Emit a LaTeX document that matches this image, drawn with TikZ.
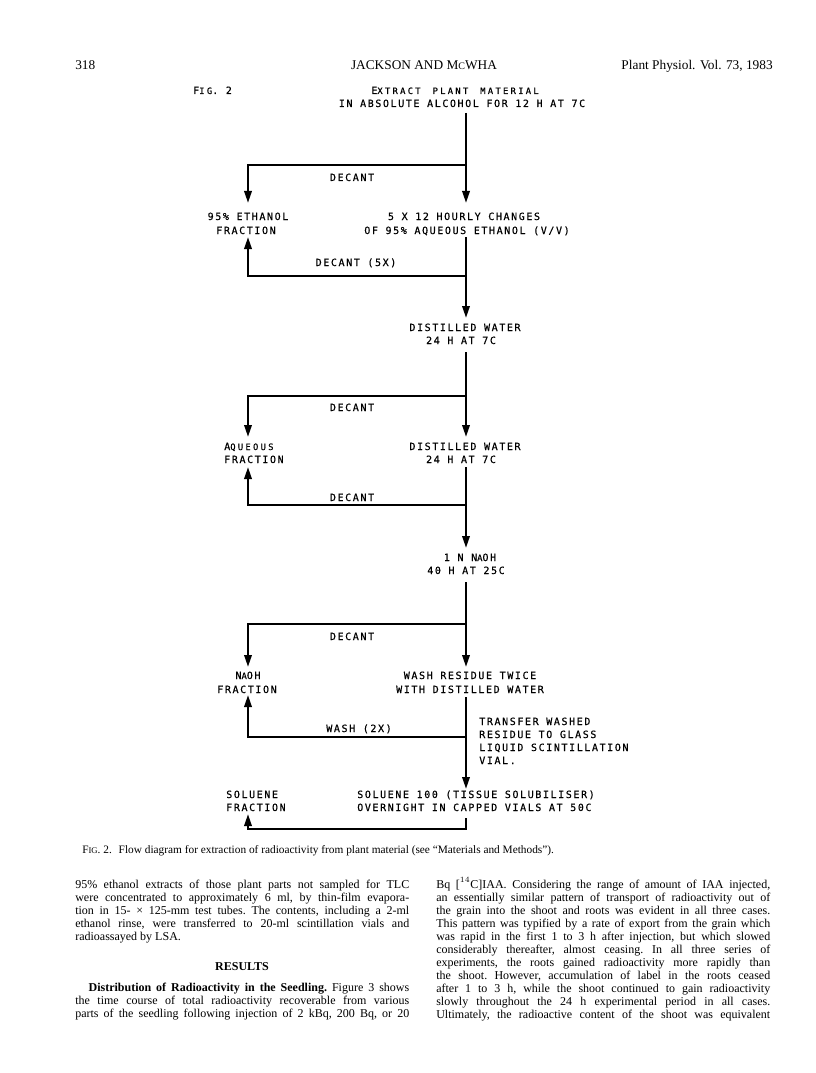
\documentclass[tikz,border=0pt]{standalone}
\usepackage{fontspec}
\usetikzlibrary{arrows.meta}
\setmainfont{Liberation Serif}
\newfontfamily\flowA[LetterSpace=16,FakeBold=0.4]{DejaVu Sans Mono}
\newfontfamily\flowB[LetterSpace=26,FakeBold=0.4]{DejaVu Sans Mono}
\newcommand\flowfont{\flowA\fontsize{7.5}{9.75}\selectfont}
\newcommand\sm[1]{{\flowB\fontsize{6.6}{9.75}\selectfont #1}}
\newcommand\gp{\hspace{9pt}}
\newcommand\bodyfont{\fontsize{9}{9.75}\selectfont\frenchspacing}
\newcommand\jline[1]{\makebox[250.5pt][s]{#1}}
\tikzset{
  ft/.style={inner sep=0pt, anchor=base, font=\flowfont},
  ftl/.style={inner sep=0pt, anchor=base west, font=\flowfont},
  arr/.style={line width=1.7pt, line join=miter, -{Triangle[length=9pt,width=5.5pt]}},
  bt/.style={inner sep=0pt, anchor=base west, font=\bodyfont},
  hd/.style={inner sep=0pt, font=\fontsize{10}{12}\selectfont},
}
\begin{document}
\begin{tikzpicture}[x=0.75pt,y=-0.75pt]
\useasboundingbox (0,0) rectangle (816,1073);
\fill[white] (0,0) rectangle (816,1073);

% header
\node[hd, anchor=base west] (h1) at (75,70) {318};
\node[hd, anchor=base] (h2) at (424,70) {JACKSON AND M{\fontsize{7.5}{9}\selectfont C}WHA};
\node[hd, anchor=base east] (h3) at (773,70) {Plant Physiol. Vol. 73, 1983};

% flow texts
\node[ftl] (fig) at (193,94) {F\sm{IG}. 2};
\node[ft] (e1) at (455,94) {E\sm{XTRACT}\gp\sm{PLANT}\gp\sm{MATERIAL}};
\node[ft] (e2) at (462,107) {IN ABSOLUTE ALCOHOL FOR 12 H AT 7C};

\node[ft] (f1a) at (248,220) {95\% ETHANOL};
\node[ft] (f1b) at (246,234) {FRACTION};
\node[ft] (s1a) at (464,220) {5 X 12 HOURLY CHANGES};
\node[ft] (s1b) at (467,234) {OF 95\% AQUEOUS ETHANOL (V/V)};
\node[ft] (d1) at (352,181) {DECANT};
\node[ft] (d2) at (356,266) {DECANT (5X)};

\node[ft] (s2a) at (465,331) {DISTILLED WATER};
\node[ft] (s2b) at (461,344) {24 H AT 7C};
\node[ft] (d3) at (352,411) {DECANT};
\node[ftl] (f2a) at (224,450) {A\sm{QUEOUS}};
\node[ftl] (f2b) at (224,463) {FRACTION};
\node[ft] (s3a) at (465,450) {DISTILLED WATER};
\node[ft] (s3b) at (461,463) {24 H AT 7C};
\node[ft] (d4) at (352,501) {DECANT};

\node[ft] (s4a) at (470,561) {1 N N\sm{A}OH};
\node[ft] (s4b) at (466,574) {40 H AT 25C};
\node[ft] (d5) at (352,640) {DECANT};
\node[ft] (f3a) at (248,679) {N\sm{A}OH};
\node[ft] (f3b) at (247,693) {FRACTION};
\node[ft] (s5a) at (470,679) {WASH RESIDUE TWICE};
\node[ft] (s5b) at (470,693) {WITH DISTILLED WATER};
\node[ft] (w1) at (359,732) {WASH (2X)};
\node[ftl] (tr1) at (479,725) {TRANSFER WASHED};
\node[ftl] (tr2) at (479,738) {RESIDUE TO GLASS};
\node[ftl] (tr3) at (479,751) {LIQUID SCINTILLATION};
\node[ftl] (tr4) at (479,764) {VIAL.};
\node[ftl] (s6a) at (357,798) {SOLUENE 100 (TISSUE SOLUBILISER)};
\node[ftl] (s6b) at (357,811) {OVERNIGHT IN CAPPED VIALS AT 50C};
\node[ftl] (f4a) at (226,798) {SOLUENE};
\node[ftl] (f4b) at (226,811) {FRACTION};

% connector coordinates
\coordinate (m0) at (466,113);
\coordinate (m1) at (466,203);
\coordinate (b1) at (466,165);
\coordinate (l1) at (248,165);
\coordinate (l1t) at (248,203);
\coordinate (m2) at (466,237);
\coordinate (m2t) at (466,318);
\coordinate (b2) at (466,276);
\coordinate (l2) at (248,276);
\coordinate (l2t) at (248,237);
\coordinate (m3) at (466,352);
\coordinate (m3t) at (466,437);
\coordinate (b3) at (466,396);
\coordinate (l3) at (248,396);
\coordinate (l3t) at (248,437);
\coordinate (m4) at (466,467);
\coordinate (m4t) at (466,548);
\coordinate (b4) at (466,505);
\coordinate (l4) at (248,505);
\coordinate (l4t) at (248,467);
\coordinate (m5) at (466,582);
\coordinate (m5t) at (466,667);
\coordinate (b5) at (466,624);
\coordinate (l5) at (248,624);
\coordinate (l5t) at (248,667);
\coordinate (m6) at (466,697);
\coordinate (m6t) at (466,789);
\coordinate (b6) at (466,737);
\coordinate (l6) at (248,737);
\coordinate (l6t) at (248,695);
\coordinate (m7) at (466,818);
\coordinate (b7) at (466,829);
\coordinate (l7) at (248,829);
\coordinate (l7t) at (248,814);

\draw[arr] (m0) -- (m1);
\draw[arr] (b1) -- (l1) -- (l1t);
\draw[arr] (m2) -- (m2t);
\draw[arr] (b2) -- (l2) -- (l2t);
\draw[arr] (m3) -- (m3t);
\draw[arr] (b3) -- (l3) -- (l3t);
\draw[arr] (m4) -- (m4t);
\draw[arr] (b4) -- (l4) -- (l4t);
\draw[arr] (m5) -- (m5t);
\draw[arr] (b5) -- (l5) -- (l5t);
\draw[arr] (m6) -- (m6t);
\draw[arr] (b6) -- (l6) -- (l6t);
\draw[arr] (m7) -- (b7) -- (l7) -- (l7t);

% caption
\node[inner sep=0pt, anchor=base west, font=\fontsize{8.5}{10}\selectfont\frenchspacing] (cap) at (82,853)
  {F{\fontsize{6.5}{7}\selectfont IG}. 2.\hspace{3pt} Flow diagram for extraction of radioactivity from plant material (see ``Materials and Methods'').};

% left column
\node[bt] (L1) at (75,888) {\jline{95\% ethanol extracts of those plant parts not sampled for TLC}};
\node[bt] (L2) at (75,901) {\jline{were concentrated to approximately 6 ml, by thin-film evapora-}};
\node[bt] (L3) at (75,914) {\jline{tion in 15- × 125-mm test tubes. The contents, including a 2-ml}};
\node[bt] (L4) at (75,927) {\jline{ethanol rinse, were transferred to 20-ml scintillation vials and}};
\node[bt] (L5) at (75,940) {radioassayed by LSA.};
\node[inner sep=0pt, anchor=base, font=\bfseries\fontsize{9}{10}\selectfont] (res) at (242,970) {RESULTS};
\node[bt] (L6) at (75,991) {\jline{\hspace{10pt}\textbf{Distribution of Radioactivity in the Seedling.} Figure 3 shows}};
\node[bt] (L7) at (75,1004) {\jline{the time course of total radioactivity recoverable from various}};
\node[bt] (L8) at (75,1017) {\jline{parts of the seedling following injection of 2 kBq, 200 Bq, or 20}};

% right column
\node[bt] (R1) at (436,888) {\jline{Bq [$^{14}$C]IAA. Considering the range of amount of IAA injected,}};
\node[bt] (R2) at (436,901) {\jline{an essentially similar pattern of transport of radioactivity out of}};
\node[bt] (R3) at (436,914) {\jline{the grain into the shoot and roots was evident in all three cases.}};
\node[bt] (R4) at (436,927) {\jline{This pattern was typified by a rate of export from the grain which}};
\node[bt] (R5) at (436,940) {\jline{was rapid in the first 1 to 3 h after injection, but which slowed}};
\node[bt] (R6) at (436,953) {\jline{considerably thereafter, almost ceasing. In all three series of}};
\node[bt] (R7) at (436,966) {\jline{experiments, the roots gained radioactivity more rapidly than}};
\node[bt] (R8) at (436,979) {\jline{the shoot. However, accumulation of label in the roots ceased}};
\node[bt] (R9) at (436,992) {\jline{after 1 to 3 h, while the shoot continued to gain radioactivity}};
\node[bt] (R10) at (436,1005) {\jline{slowly throughout the 24 h experimental period in all cases.}};
\node[bt] (R11) at (436,1018) {\jline{Ultimately, the radioactive content of the shoot was equivalent}};
\end{tikzpicture}
\end{document}
